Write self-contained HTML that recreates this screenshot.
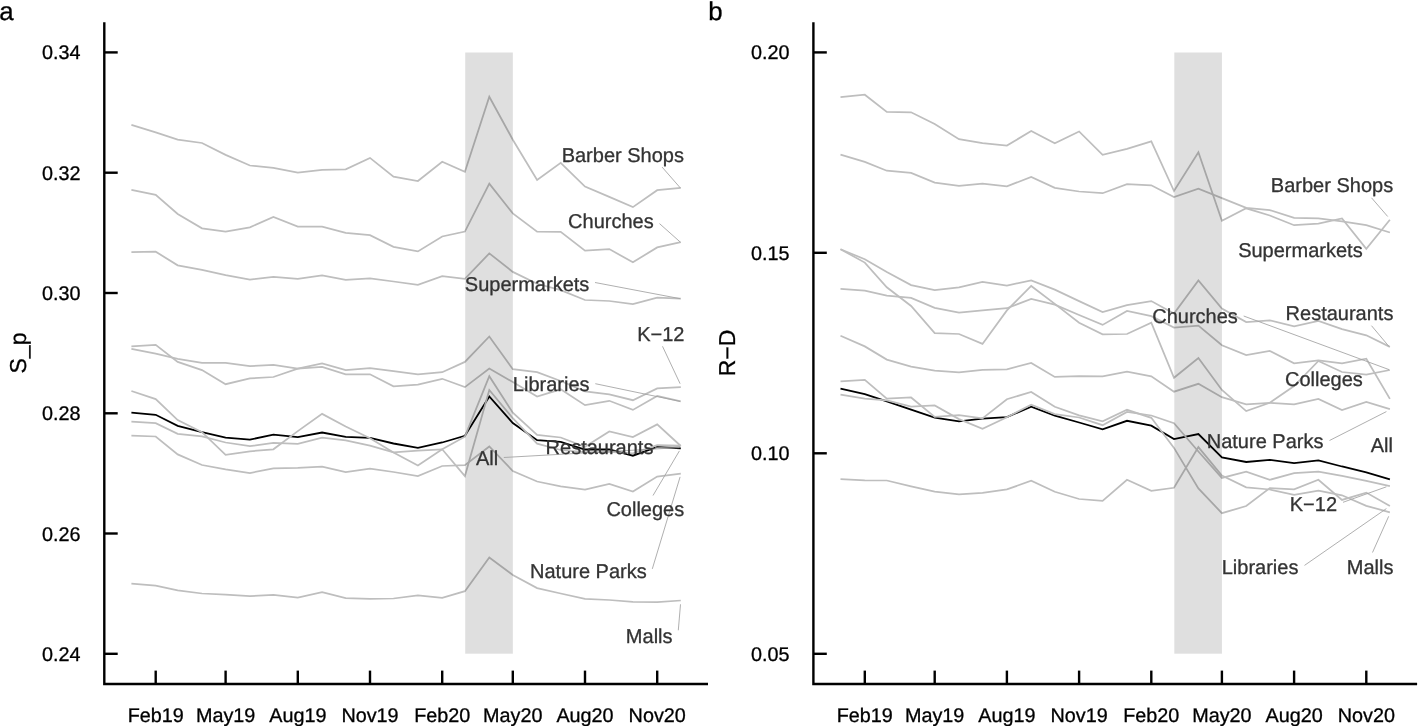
<!DOCTYPE html>
<html lang="en"><head><meta charset="utf-8"><title>Figure</title>
<style>html,body{margin:0;padding:0;background:#fff}svg{display:block;filter:grayscale(1)}</style></head>
<body>
<svg width="1418" height="726" viewBox="0 0 1418 726" font-family="'Liberation Sans', Arial, Helvetica, sans-serif" text-rendering="geometricPrecision">
<rect width="1418" height="726" fill="#fff"/>
<polyline points="131.4,412.7 155.7,414.8 177.7,425.9 202.0,432.1 225.6,437.7 249.9,439.6 273.4,434.6 297.8,437.1 322.1,432.5 345.7,436.9 370.0,437.9 393.5,443.5 417.9,447.8 442.2,442.5 464.9,435.8 489.3,396.5 512.8,423.0 537.1,440.2 560.7,441.8 585.0,449.5 609.3,449.5 632.9,455.7 657.2,447.0 680.8,448.3" fill="none" stroke="#000" stroke-width="1.8" stroke-linejoin="miter" stroke-miterlimit="10"/>
<polyline points="131.4,124.8 155.7,132.4 177.7,139.7 202.0,143.0 225.6,154.9 249.9,165.5 273.4,167.8 297.8,172.7 322.1,169.8 345.7,169.4 370.0,157.9 393.5,176.7 417.9,181.0 442.2,161.8 464.9,171.7 489.3,96.8 512.8,139.7 537.1,180.0 560.7,162.8 585.0,186.6 609.3,196.9 632.9,207.1 657.2,190.2 680.8,187.9" fill="none" stroke="#bebebe" stroke-width="1.75" stroke-linejoin="miter" stroke-miterlimit="10"/>
<polyline points="131.4,189.9 155.7,194.9 177.7,214.0 202.0,228.3 225.6,231.6 249.9,227.3 273.4,217.0 297.8,226.6 322.1,226.6 345.7,232.9 370.0,235.2 393.5,246.8 417.9,251.4 442.2,236.5 464.9,231.6 489.3,183.6 512.8,213.4 537.1,231.6 560.7,231.9 585.0,250.7 609.3,249.1 632.9,262.3 657.2,247.4 680.8,242.1" fill="none" stroke="#bebebe" stroke-width="1.75" stroke-linejoin="miter" stroke-miterlimit="10"/>
<polyline points="131.4,252.1 155.7,251.7 177.7,265.3 202.0,269.9 225.6,275.2 249.9,279.5 273.4,276.9 297.8,278.8 322.1,275.5 345.7,279.8 370.0,278.5 393.5,281.5 417.9,284.8 442.2,276.2 464.9,278.8 489.3,253.4 512.8,271.9 537.1,283.8 560.7,290.1 585.0,300.0 609.3,301.0 632.9,304.0 657.2,297.7 680.8,298.7" fill="none" stroke="#bebebe" stroke-width="1.75" stroke-linejoin="miter" stroke-miterlimit="10"/>
<polyline points="131.4,346.4 155.7,344.9 177.7,361.9 202.0,370.1 225.6,384.2 249.9,378.4 273.4,377.0 297.8,368.7 322.1,363.5 345.7,370.1 370.0,368.1 393.5,371.2 417.9,374.3 442.2,372.2 464.9,361.9 489.3,336.5 512.8,369.2 537.1,372.2 560.7,381.0 585.0,391.3 609.3,394.4 632.9,400.2 657.2,388.4 680.8,387.2" fill="none" stroke="#bebebe" stroke-width="1.75" stroke-linejoin="miter" stroke-miterlimit="10"/>
<polyline points="131.4,348.8 155.7,353.6 177.7,358.8 202.0,362.9 225.6,362.9 249.9,366.2 273.4,365.0 297.8,368.5 322.1,367.0 345.7,374.3 370.0,374.3 393.5,386.3 417.9,384.6 442.2,378.8 464.9,387.1 489.3,368.6 512.8,382.0 537.1,396.5 560.7,389.3 585.0,405.2 609.3,400.8 632.9,409.9 657.2,395.9 680.8,401.3" fill="none" stroke="#bebebe" stroke-width="1.75" stroke-linejoin="miter" stroke-miterlimit="10"/>
<polyline points="131.4,391.0 155.7,399.1 177.7,420.1 202.0,432.1 225.6,454.9 249.9,451.3 273.4,449.3 297.8,431.1 322.1,413.9 345.7,426.5 370.0,438.3 393.5,452.6 417.9,465.6 442.2,449.3 464.9,436.7 489.3,376.2 512.8,412.7 537.1,434.8 560.7,437.5 585.0,446.7 609.3,431.4 632.9,437.1 657.2,424.4 680.8,446.0" fill="none" stroke="#bebebe" stroke-width="1.75" stroke-linejoin="miter" stroke-miterlimit="10"/>
<polyline points="131.4,421.6 155.7,423.2 177.7,433.8 202.0,436.3 225.6,442.5 249.9,446.2 273.4,442.9 297.8,443.9 322.1,437.7 345.7,440.4 370.0,445.6 393.5,452.4 417.9,450.7 442.2,449.3 464.9,476.1 489.3,390.0 512.8,418.2 537.1,443.7 560.7,450.0 585.0,452.0 609.3,452.0 632.9,453.3 657.2,445.2 680.8,445.7" fill="none" stroke="#bebebe" stroke-width="1.75" stroke-linejoin="miter" stroke-miterlimit="10"/>
<polyline points="131.4,435.6 155.7,436.5 177.7,454.4 202.0,465.0 225.6,469.3 249.9,473.0 273.4,468.3 297.8,467.9 322.1,466.6 345.7,472.2 370.0,468.7 393.5,472.0 417.9,476.1 442.2,466.0 464.9,465.2 489.3,446.5 512.8,471.0 537.1,481.5 560.7,486.3 585.0,489.5 609.3,484.0 632.9,491.5 657.2,476.6 680.8,473.6" fill="none" stroke="#bebebe" stroke-width="1.75" stroke-linejoin="miter" stroke-miterlimit="10"/>
<polyline points="131.4,583.6 155.7,585.6 177.7,590.3 202.0,593.5 225.6,594.6 249.9,596.2 273.4,594.8 297.8,597.5 322.1,592.1 345.7,598.2 370.0,598.9 393.5,598.5 417.9,595.3 442.2,597.8 464.9,591.2 489.3,557.6 512.8,575.0 537.1,588.1 560.7,593.5 585.0,598.9 609.3,600.0 632.9,601.8 657.2,602.1 680.8,600.5" fill="none" stroke="#bebebe" stroke-width="1.75" stroke-linejoin="miter" stroke-miterlimit="10"/>
<rect x="465.2" y="52.5" width="47.65" height="601.2" fill="#000" fill-opacity="0.125"/>
<line x1="662.1" y1="167.1" x2="680.3" y2="187.9" stroke="#a0a0a0" stroke-width="0.85"/>
<line x1="659.5" y1="223.6" x2="680.3" y2="242.1" stroke="#a0a0a0" stroke-width="0.85"/>
<line x1="595" y1="282.5" x2="680.3" y2="298.7" stroke="#a0a0a0" stroke-width="0.85"/>
<line x1="662.5" y1="346.3" x2="680.1" y2="383.7" stroke="#a0a0a0" stroke-width="0.85"/>
<line x1="595.3" y1="383.7" x2="680.1" y2="401.4" stroke="#a0a0a0" stroke-width="0.85"/>
<line x1="655" y1="447.8" x2="680" y2="446.6" stroke="#a0a0a0" stroke-width="0.85"/>
<line x1="503.8" y1="457.5" x2="679.4" y2="447.6" stroke="#a0a0a0" stroke-width="0.85"/>
<line x1="653" y1="495.5" x2="679.4" y2="450.9" stroke="#a0a0a0" stroke-width="0.85"/>
<line x1="652.3" y1="568.9" x2="680.1" y2="476.9" stroke="#a0a0a0" stroke-width="0.85"/>
<line x1="678.3" y1="630.3" x2="680.5" y2="604.3" stroke="#a0a0a0" stroke-width="0.85"/>
<text x="622.8" y="161.6" font-size="20.0" text-anchor="middle" fill="#333" stroke="#333" stroke-width="0.3">Barber Shops</text>
<text x="610.9" y="228.3" font-size="20.0" text-anchor="middle" fill="#333" stroke="#333" stroke-width="0.3">Churches</text>
<text x="527.1" y="290.5" font-size="20.0" text-anchor="middle" fill="#333" stroke="#333" stroke-width="0.3">Supermarkets</text>
<text x="660.8" y="341.2" font-size="20.0" text-anchor="middle" fill="#333" stroke="#333" stroke-width="0.3">K−12</text>
<text x="551.2" y="391.3" font-size="20.0" text-anchor="middle" fill="#333" stroke="#333" stroke-width="0.3">Libraries</text>
<text x="599.5" y="453.5" font-size="20.0" text-anchor="middle" fill="#333" stroke="#333" stroke-width="0.3">Restaurants</text>
<text x="487.0" y="464.7" font-size="20.0" text-anchor="middle" fill="#333" stroke="#333" stroke-width="0.3">All</text>
<text x="645.3" y="515.9" font-size="20.0" text-anchor="middle" fill="#333" stroke="#333" stroke-width="0.3">Colleges</text>
<text x="588.4" y="577.6" font-size="20.0" text-anchor="middle" fill="#333" stroke="#333" stroke-width="0.3">Nature Parks</text>
<text x="649.2" y="643.1" font-size="20.0" text-anchor="middle" fill="#333" stroke="#333" stroke-width="0.3">Malls</text>
<path d="M104.3,22.3 V684.0 H708.0" fill="none" stroke="#000" stroke-width="2.4"/>
<line x1="104.3" y1="52.4" x2="117.7" y2="52.4" stroke="#000" stroke-width="2.4"/>
<text x="80.5" y="59.4" font-size="19.8" text-anchor="end" fill="#000" stroke="#000" stroke-width="0.3">0.34</text>
<line x1="104.3" y1="172.7" x2="117.7" y2="172.7" stroke="#000" stroke-width="2.4"/>
<text x="80.5" y="179.7" font-size="19.8" text-anchor="end" fill="#000" stroke="#000" stroke-width="0.3">0.32</text>
<line x1="104.3" y1="293.0" x2="117.7" y2="293.0" stroke="#000" stroke-width="2.4"/>
<text x="80.5" y="300.0" font-size="19.8" text-anchor="end" fill="#000" stroke="#000" stroke-width="0.3">0.30</text>
<line x1="104.3" y1="413.3" x2="117.7" y2="413.3" stroke="#000" stroke-width="2.4"/>
<text x="80.5" y="420.3" font-size="19.8" text-anchor="end" fill="#000" stroke="#000" stroke-width="0.3">0.28</text>
<line x1="104.3" y1="533.5" x2="117.7" y2="533.5" stroke="#000" stroke-width="2.4"/>
<text x="80.5" y="540.5" font-size="19.8" text-anchor="end" fill="#000" stroke="#000" stroke-width="0.3">0.26</text>
<line x1="104.3" y1="653.8" x2="117.7" y2="653.8" stroke="#000" stroke-width="2.4"/>
<text x="80.5" y="660.8" font-size="19.8" text-anchor="end" fill="#000" stroke="#000" stroke-width="0.3">0.24</text>
<line x1="155.7" y1="684.0" x2="155.7" y2="670.6" stroke="#000" stroke-width="2.4"/>
<text x="155.7" y="721.9" font-size="19.8" text-anchor="middle" fill="#000" stroke="#000" stroke-width="0.3">Feb19</text>
<line x1="225.6" y1="684.0" x2="225.6" y2="670.6" stroke="#000" stroke-width="2.4"/>
<text x="225.6" y="721.9" font-size="19.8" text-anchor="middle" fill="#000" stroke="#000" stroke-width="0.3">May19</text>
<line x1="297.8" y1="684.0" x2="297.8" y2="670.6" stroke="#000" stroke-width="2.4"/>
<text x="297.8" y="721.9" font-size="19.8" text-anchor="middle" fill="#000" stroke="#000" stroke-width="0.3">Aug19</text>
<line x1="370.0" y1="684.0" x2="370.0" y2="670.6" stroke="#000" stroke-width="2.4"/>
<text x="370.0" y="721.9" font-size="19.8" text-anchor="middle" fill="#000" stroke="#000" stroke-width="0.3">Nov19</text>
<line x1="442.2" y1="684.0" x2="442.2" y2="670.6" stroke="#000" stroke-width="2.4"/>
<text x="442.2" y="721.9" font-size="19.8" text-anchor="middle" fill="#000" stroke="#000" stroke-width="0.3">Feb20</text>
<line x1="512.8" y1="684.0" x2="512.8" y2="670.6" stroke="#000" stroke-width="2.4"/>
<text x="512.8" y="721.9" font-size="19.8" text-anchor="middle" fill="#000" stroke="#000" stroke-width="0.3">May20</text>
<line x1="585.0" y1="684.0" x2="585.0" y2="670.6" stroke="#000" stroke-width="2.4"/>
<text x="585.0" y="721.9" font-size="19.8" text-anchor="middle" fill="#000" stroke="#000" stroke-width="0.3">Aug20</text>
<line x1="657.2" y1="684.0" x2="657.2" y2="670.6" stroke="#000" stroke-width="2.4"/>
<text x="657.2" y="721.9" font-size="19.8" text-anchor="middle" fill="#000" stroke="#000" stroke-width="0.3">Nov20</text>
<text transform="translate(25.6,353) rotate(-90)" font-size="23" text-anchor="middle" fill="#000" stroke="#000" stroke-width="0.3">S_p</text>
<text x="-0.8" y="19.8" font-size="25.8" fill="#000" stroke="#000" stroke-width="0.3">a</text>
<polyline points="840.5,388.7 864.8,394.2 886.8,401.4 911.1,409.6 934.7,417.7 959.0,421.3 982.5,418.6 1006.9,417.1 1031.2,406.7 1054.8,415.6 1079.1,422.5 1102.6,429.4 1127.0,420.8 1151.3,425.7 1174.0,439.1 1198.4,434.0 1221.9,457.5 1246.2,462.0 1269.8,459.8 1294.1,463.2 1318.4,460.3 1342.0,466.5 1366.3,472.3 1389.9,479.4" fill="none" stroke="#000" stroke-width="1.8" stroke-linejoin="miter" stroke-miterlimit="10"/>
<polyline points="840.5,97.1 864.8,94.7 886.8,111.9 911.1,112.3 934.7,124.0 959.0,139.2 982.5,143.2 1006.9,145.6 1031.2,131.0 1054.8,143.3 1079.1,131.5 1102.6,154.9 1127.0,148.9 1151.3,141.4 1174.0,191.0 1198.4,152.2 1221.9,220.8 1246.2,208.3 1269.8,215.5 1294.1,225.2 1318.4,223.6 1342.0,218.4 1366.3,248.9 1389.9,219.8" fill="none" stroke="#bebebe" stroke-width="1.75" stroke-linejoin="miter" stroke-miterlimit="10"/>
<polyline points="840.5,154.6 864.8,161.9 886.8,170.7 911.1,172.9 934.7,182.6 959.0,185.9 982.5,183.7 1006.9,186.4 1031.2,176.9 1054.8,187.8 1079.1,191.5 1102.6,193.2 1127.0,184.2 1151.3,185.3 1174.0,197.0 1198.4,188.6 1221.9,198.1 1246.2,207.9 1269.8,210.1 1294.1,217.9 1318.4,218.4 1342.0,221.3 1366.3,225.2 1389.9,232.5" fill="none" stroke="#bebebe" stroke-width="1.75" stroke-linejoin="miter" stroke-miterlimit="10"/>
<polyline points="840.5,249.2 864.8,259.3 886.8,271.9 911.1,285.1 934.7,290.2 959.0,287.3 982.5,282.0 1006.9,285.5 1031.2,280.5 1054.8,289.6 1079.1,301.1 1102.6,312.1 1127.0,305.1 1151.3,301.1 1174.0,313.5 1198.4,280.4 1221.9,308.6 1246.2,322.0 1269.8,320.3 1294.1,326.3 1318.4,320.9 1342.0,329.2 1366.3,335.3 1389.9,346.9" fill="none" stroke="#bebebe" stroke-width="1.75" stroke-linejoin="miter" stroke-miterlimit="10"/>
<polyline points="840.5,249.2 864.8,262.6 886.8,287.3 911.1,306.0 934.7,333.1 959.0,334.0 982.5,343.9 1006.9,310.4 1031.2,286.0 1054.8,303.9 1079.1,322.7 1102.6,334.4 1127.0,334.0 1151.3,322.7 1174.0,377.8 1198.4,358.0 1221.9,390.0 1246.2,411.1 1269.8,402.8 1294.1,386.0 1318.4,361.0 1342.0,372.0 1366.3,374.5 1389.9,370.0" fill="none" stroke="#bebebe" stroke-width="1.75" stroke-linejoin="miter" stroke-miterlimit="10"/>
<polyline points="840.5,288.8 864.8,290.6 886.8,295.7 911.1,297.9 934.7,307.8 959.0,312.6 982.5,310.4 1006.9,308.2 1031.2,299.0 1054.8,304.7 1079.1,315.0 1102.6,324.9 1127.0,311.0 1151.3,316.1 1174.0,327.6 1198.4,325.6 1221.9,345.2 1246.2,355.1 1269.8,351.0 1294.1,363.3 1318.4,360.4 1342.0,363.3 1366.3,358.7 1389.9,398.9" fill="none" stroke="#bebebe" stroke-width="1.75" stroke-linejoin="miter" stroke-miterlimit="10"/>
<polyline points="840.5,335.8 864.8,346.4 886.8,359.6 911.1,366.6 934.7,370.6 959.0,372.4 982.5,369.9 1006.9,369.3 1031.2,362.9 1054.8,376.9 1079.1,376.1 1102.6,376.3 1127.0,371.7 1151.3,376.3 1174.0,391.7 1198.4,383.8 1221.9,397.2 1246.2,404.3 1269.8,402.8 1294.1,404.3 1318.4,398.9 1342.0,410.1 1366.3,402.0 1389.9,409.2" fill="none" stroke="#bebebe" stroke-width="1.75" stroke-linejoin="miter" stroke-miterlimit="10"/>
<polyline points="840.5,381.4 864.8,379.8 886.8,398.6 911.1,397.5 934.7,416.9 959.0,415.1 982.5,418.4 1006.9,399.2 1031.2,392.0 1054.8,406.8 1079.1,415.3 1102.6,421.4 1127.0,409.8 1151.3,417.8 1174.0,447.9 1198.4,488.4 1221.9,513.2 1246.2,506.0 1269.8,488.1 1294.1,489.4 1318.4,479.8 1342.0,499.9 1366.3,492.6 1389.9,506.0" fill="none" stroke="#bebebe" stroke-width="1.75" stroke-linejoin="miter" stroke-miterlimit="10"/>
<polyline points="840.5,394.6 864.8,398.6 886.8,400.3 911.1,406.7 934.7,405.4 959.0,419.1 982.5,428.8 1006.9,417.3 1031.2,404.7 1054.8,414.1 1079.1,417.5 1102.6,425.2 1127.0,412.0 1151.3,415.5 1174.0,423.2 1198.4,451.5 1221.9,477.9 1246.2,471.6 1269.8,479.8 1294.1,473.1 1318.4,471.6 1342.0,475.9 1366.3,480.8 1389.9,486.1" fill="none" stroke="#bebebe" stroke-width="1.75" stroke-linejoin="miter" stroke-miterlimit="10"/>
<polyline points="840.5,479.2 864.8,480.3 886.8,480.5 911.1,486.3 934.7,491.6 959.0,494.4 982.5,492.9 1006.9,489.4 1031.2,480.8 1054.8,491.8 1079.1,499.0 1102.6,500.8 1127.0,479.8 1151.3,490.8 1174.0,487.8 1198.4,447.1 1221.9,475.6 1246.2,487.4 1269.8,489.5 1294.1,494.8 1318.4,490.7 1342.0,495.3 1366.3,505.8 1389.9,512.3" fill="none" stroke="#bebebe" stroke-width="1.75" stroke-linejoin="miter" stroke-miterlimit="10"/>
<rect x="1174.3" y="52.5" width="47.65" height="601.2" fill="#000" fill-opacity="0.125"/>
<line x1="1371.5" y1="197.8" x2="1387.7" y2="216.5" stroke="#a0a0a0" stroke-width="0.85"/>
<line x1="1243.7" y1="316" x2="1389" y2="369.6" stroke="#a0a0a0" stroke-width="0.85"/>
<line x1="1371.5" y1="325.7" x2="1389" y2="346.5" stroke="#a0a0a0" stroke-width="0.85"/>
<line x1="1329.5" y1="440.5" x2="1386.4" y2="411.6" stroke="#a0a0a0" stroke-width="0.85"/>
<line x1="1343" y1="502.3" x2="1386.4" y2="486.8" stroke="#a0a0a0" stroke-width="0.85"/>
<line x1="1304.5" y1="565.4" x2="1386.4" y2="508.6" stroke="#a0a0a0" stroke-width="0.85"/>
<line x1="1372.5" y1="552.5" x2="1388.7" y2="516.3" stroke="#a0a0a0" stroke-width="0.85"/>
<text x="1332.0" y="191.8" font-size="20.0" text-anchor="middle" fill="#333" stroke="#333" stroke-width="0.3">Barber Shops</text>
<text x="1300.4" y="257.4" font-size="20.0" text-anchor="middle" fill="#333" stroke="#333" stroke-width="0.3">Supermarkets</text>
<text x="1195.0" y="323.1" font-size="20.0" text-anchor="middle" fill="#333" stroke="#333" stroke-width="0.3">Churches</text>
<text x="1339.5" y="319.9" font-size="20.0" text-anchor="middle" fill="#333" stroke="#333" stroke-width="0.3">Restaurants</text>
<text x="1323.9" y="386.0" font-size="20.0" text-anchor="middle" fill="#333" stroke="#333" stroke-width="0.3">Colleges</text>
<text x="1265.1" y="448.0" font-size="20.0" text-anchor="middle" fill="#333" stroke="#333" stroke-width="0.3">Nature Parks</text>
<text x="1381.8" y="452.1" font-size="20.0" text-anchor="middle" fill="#333" stroke="#333" stroke-width="0.3">All</text>
<text x="1313.4" y="510.6" font-size="20.0" text-anchor="middle" fill="#333" stroke="#333" stroke-width="0.3">K−12</text>
<text x="1260.1" y="573.5" font-size="20.0" text-anchor="middle" fill="#333" stroke="#333" stroke-width="0.3">Libraries</text>
<text x="1370.1" y="573.5" font-size="20.0" text-anchor="middle" fill="#333" stroke="#333" stroke-width="0.3">Malls</text>
<path d="M813.4,22.3 V684.0 H1417.1" fill="none" stroke="#000" stroke-width="2.4"/>
<line x1="813.4" y1="52.4" x2="826.8" y2="52.4" stroke="#000" stroke-width="2.4"/>
<text x="789.6" y="59.4" font-size="19.8" text-anchor="end" fill="#000" stroke="#000" stroke-width="0.3">0.20</text>
<line x1="813.4" y1="252.8" x2="826.8" y2="252.8" stroke="#000" stroke-width="2.4"/>
<text x="789.6" y="259.8" font-size="19.8" text-anchor="end" fill="#000" stroke="#000" stroke-width="0.3">0.15</text>
<line x1="813.4" y1="453.3" x2="826.8" y2="453.3" stroke="#000" stroke-width="2.4"/>
<text x="789.6" y="460.3" font-size="19.8" text-anchor="end" fill="#000" stroke="#000" stroke-width="0.3">0.10</text>
<line x1="813.4" y1="653.8" x2="826.8" y2="653.8" stroke="#000" stroke-width="2.4"/>
<text x="789.6" y="660.8" font-size="19.8" text-anchor="end" fill="#000" stroke="#000" stroke-width="0.3">0.05</text>
<line x1="864.8" y1="684.0" x2="864.8" y2="670.6" stroke="#000" stroke-width="2.4"/>
<text x="864.8" y="721.9" font-size="19.8" text-anchor="middle" fill="#000" stroke="#000" stroke-width="0.3">Feb19</text>
<line x1="934.7" y1="684.0" x2="934.7" y2="670.6" stroke="#000" stroke-width="2.4"/>
<text x="934.7" y="721.9" font-size="19.8" text-anchor="middle" fill="#000" stroke="#000" stroke-width="0.3">May19</text>
<line x1="1006.9" y1="684.0" x2="1006.9" y2="670.6" stroke="#000" stroke-width="2.4"/>
<text x="1006.9" y="721.9" font-size="19.8" text-anchor="middle" fill="#000" stroke="#000" stroke-width="0.3">Aug19</text>
<line x1="1079.1" y1="684.0" x2="1079.1" y2="670.6" stroke="#000" stroke-width="2.4"/>
<text x="1079.1" y="721.9" font-size="19.8" text-anchor="middle" fill="#000" stroke="#000" stroke-width="0.3">Nov19</text>
<line x1="1151.3" y1="684.0" x2="1151.3" y2="670.6" stroke="#000" stroke-width="2.4"/>
<text x="1151.3" y="721.9" font-size="19.8" text-anchor="middle" fill="#000" stroke="#000" stroke-width="0.3">Feb20</text>
<line x1="1221.9" y1="684.0" x2="1221.9" y2="670.6" stroke="#000" stroke-width="2.4"/>
<text x="1221.9" y="721.9" font-size="19.8" text-anchor="middle" fill="#000" stroke="#000" stroke-width="0.3">May20</text>
<line x1="1294.1" y1="684.0" x2="1294.1" y2="670.6" stroke="#000" stroke-width="2.4"/>
<text x="1294.1" y="721.9" font-size="19.8" text-anchor="middle" fill="#000" stroke="#000" stroke-width="0.3">Aug20</text>
<line x1="1366.3" y1="684.0" x2="1366.3" y2="670.6" stroke="#000" stroke-width="2.4"/>
<text x="1366.3" y="721.9" font-size="19.8" text-anchor="middle" fill="#000" stroke="#000" stroke-width="0.3">Nov20</text>
<text transform="translate(734.7,353) rotate(-90)" font-size="23" text-anchor="middle" fill="#000" stroke="#000" stroke-width="0.3">R−D</text>
<text x="708.3" y="19.8" font-size="25.8" fill="#000" stroke="#000" stroke-width="0.3">b</text>
</svg>
</body></html>
